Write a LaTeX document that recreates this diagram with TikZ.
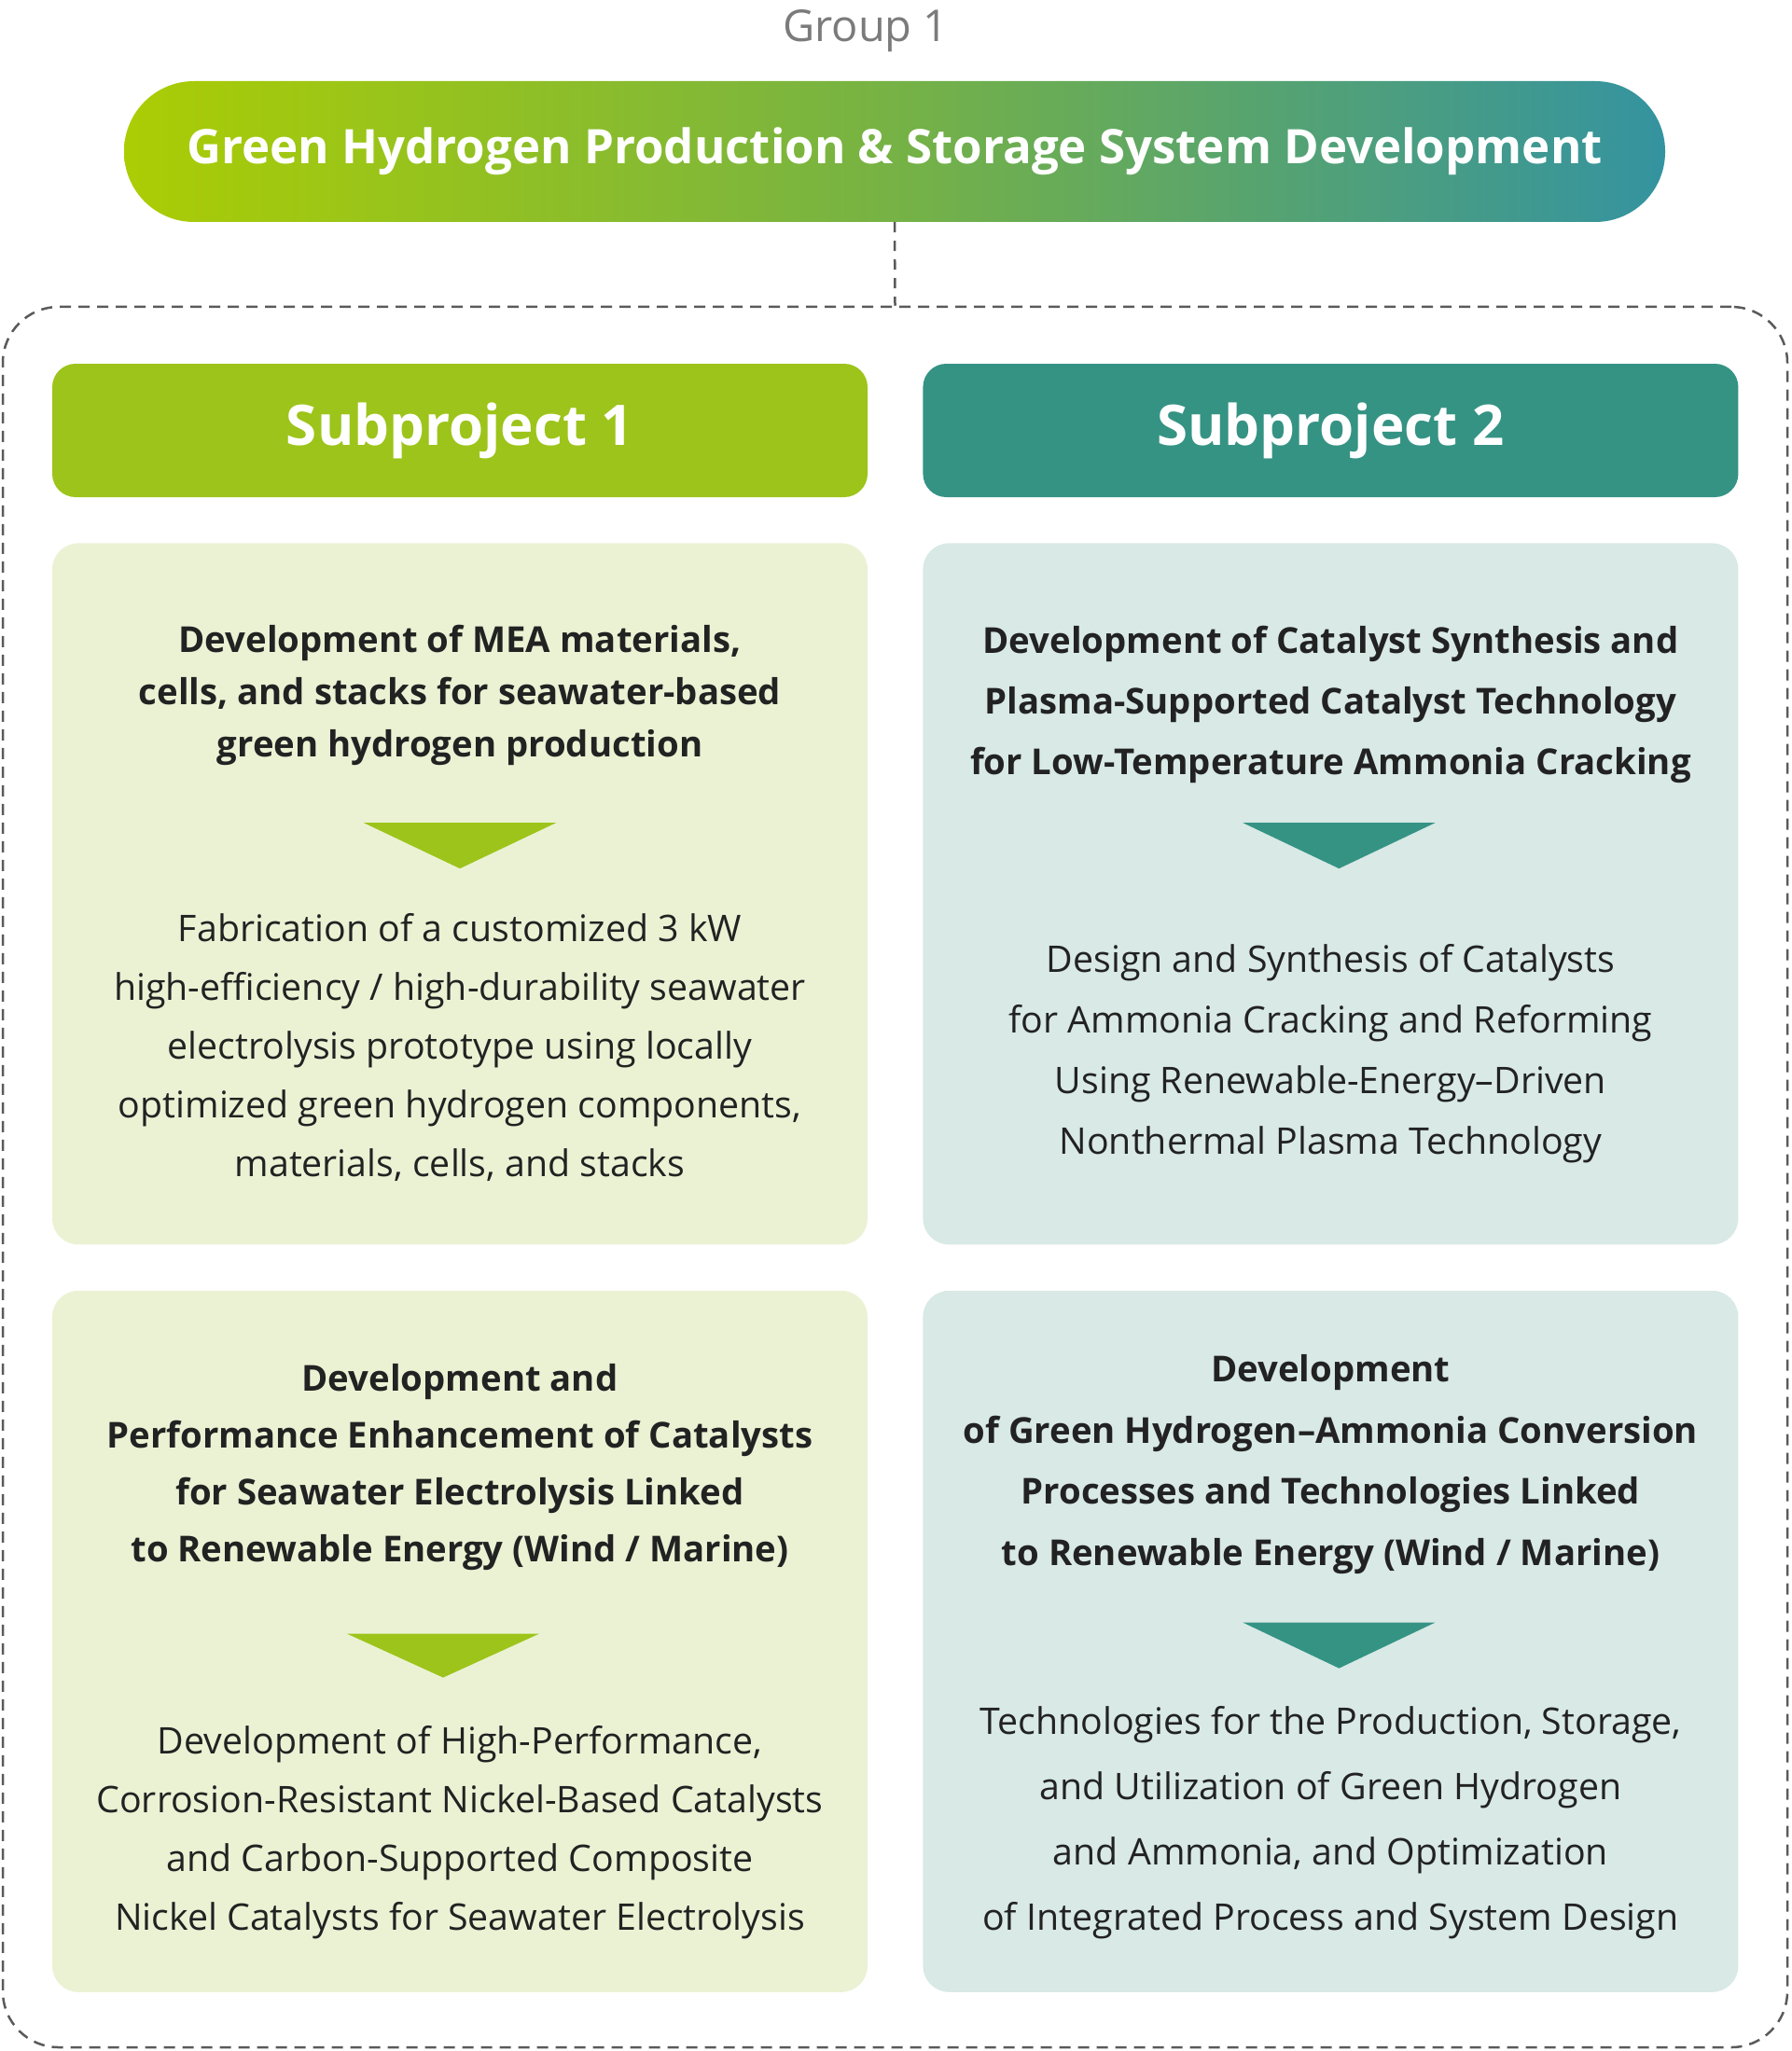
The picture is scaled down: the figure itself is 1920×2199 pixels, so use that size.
\documentclass[tikz,border=0pt]{standalone}
\usepackage{fontspec}
\setmainfont{Open Sans}
\usepackage{tikz}
\usetikzlibrary{
  calc,
  positioning
}
\definecolor{grass}{HTML}{9DC41A}
\definecolor{sea}{HTML}{359384}
\definecolor{grasslight}{HTML}{EBF2D4}
\definecolor{sealight}{HTML}{D8E9E6}
\definecolor{pillleft}{HTML}{ABCD04}
\definecolor{pillmid}{HTML}{76B245}
\definecolor{pillright}{HTML}{3493A0}
\definecolor{ink}{HTML}{222222}
\definecolor{mist}{HTML}{7B7B7B}
\definecolor{dashgray}{HTML}{5A5A5A}
\tikzset{
  grouplabel/.style={
    text=mist,
    inner sep=0pt,
    font=\fontsize{47}{50}\selectfont
  },
  titlepill/.style={
    rounded corners=75pt,
    minimum width=1652pt,
    minimum height=151pt,
    left color=pillleft,
    right color=pillright,
    middle color=pillmid,
    text=white,
    font=\fontsize{51}{60}\selectfont\bfseries
  },
  groupbox/.style={
    draw=dashgray,
    line width=2.5pt,
    dash pattern=on 12pt off 8pt,
    rounded corners=60pt,
    minimum width=1913pt,
    minimum height=1866pt
  },
  subhead/.style={
    rounded corners=25pt,
    minimum width=874pt,
    minimum height=143pt,
    text=white,
    font=\fontsize{60}{64}\selectfont\bfseries
  },
  card/.style={
    rounded corners=28pt,
    minimum width=874pt,
    minimum height=752pt
  },
  head/.style={
    align=center,
    text=ink,
    inner sep=0pt,
    font=\fontsize{38.3}{#1}\selectfont\bfseries
  },
  body/.style={
    align=center,
    text=ink,
    inner sep=0pt,
    font=\fontsize{39.3}{#1}\selectfont
  },
  link/.style={
    draw=dashgray,
    line width=2.5pt,
    dash pattern=on 11pt off 9pt
  }
}

\begin{document}
\begin{tikzpicture}[x=1pt, y=-1pt]
  \useasboundingbox (0,0) rectangle (1920,2199);

  \node[groupbox] (group) at (959.5,1262) {};
  \node[titlepill] (title) at (959,162.5)
    {Green Hydrogen Production \& Storage System Development};
  \node[grouplabel] (grouplbl) at (928,33) {Group 1};
  \draw[link] (title.south) -- (group.north);

  \node[subhead, fill=grass] (sub1) at (493,461.5) {Subproject 1};
  \node[subhead, fill=sea, right=59pt of sub1] (sub2) {Subproject 2};

  \node[card, fill=grasslight, below=49pt of sub1] (card1) {};
  \node[card, fill=sealight, below=49pt of sub2] (card2) {};
  \node[card, fill=grasslight, below=49pt of card1] (card3) {};
  \node[card, fill=sealight, below=49pt of card2] (card4) {};

  \node[head=56] (head1) at ($(card1.north)+(0,163)$)
    {Development of MEA materials,\\
     cells, and stacks for seawater-based\\
     green hydrogen production};
  \fill[grass] ($(card1.north)+(-103,300)$) -- ++(206,0) -- ++(-103,49) -- cycle;
  \node[body=63] (body1) at ($(card1.north)+(0,541)$)
    {Fabrication of a customized 3 kW\\
     high-efficiency / high-durability seawater\\
     electrolysis prototype using locally\\
     optimized green hydrogen components,\\
     materials, cells, and stacks};

  \node[head=65] (head2) at ($(card2.north)+(0,173)$)
    {Development of Catalyst Synthesis and\\
     Plasma-Supported Catalyst Technology\\
     for Low-Temperature Ammonia Cracking};
  \fill[sea] ($(card2.north)+(-94,300)$) -- ++(206,0) -- ++(-103,49) -- cycle;
  \node[body=65] (body2) at ($(card2.north)+(0,547)$)
    {Design and Synthesis of Catalysts\\
     for Ammonia Cracking and Reforming\\
     Using Renewable-Energy–Driven\\
     Nonthermal Plasma Technology};

  \node[head=61] (head3) at ($(card3.north)+(0,189.5)$)
    {Development and\\
     Performance Enhancement of Catalysts\\
     for Seawater Electrolysis Linked\\
     to Renewable Energy (Wind / Marine)};
  \fill[grass] ($(card3.north)+(-121,368)$) -- ++(206,0) -- ++(-103,47) -- cycle;
  \node[body=63] (body3) at ($(card3.north)+(0,581.5)$)
    {Development of High-Performance,\\
     Corrosion-Resistant Nickel-Based Catalysts\\
     and Carbon-Supported Composite\\
     Nickel Catalysts for Seawater Electrolysis};

  \node[head=65.5] (head4) at ($(card4.north)+(0,186.5)$)
    {Development\\
     of Green Hydrogen–Ammonia Conversion\\
     Processes and Technologies Linked\\
     to Renewable Energy (Wind / Marine)};
  \fill[sea] ($(card4.north)+(-94,356)$) -- ++(206,0) -- ++(-103,49) -- cycle;
  \node[body=70] (body4) at ($(card4.north)+(0,571)$)
    {Technologies for the Production, Storage,\\
     and Utilization of Green Hydrogen\\
     and Ammonia, and Optimization\\
     of Integrated Process and System Design};
\end{tikzpicture}
\end{document}
